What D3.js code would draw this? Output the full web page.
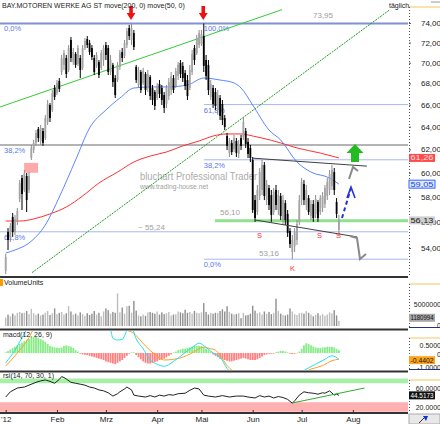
<!DOCTYPE html>
<html>
<head>
<meta charset="utf-8">
<script src="https://cdn.jsdelivr.net/npm/d3@7"></script>
<style>
body { margin: 0; background: #fff; }
svg { font-family: Arial, "Liberation Sans", sans-serif; }
</style>
</head>
<body>
<div id="chart-area"></div>
<script>
/*
*    BMW daily chart (Jan - Jul 2012)
*/

// ---- data ----
var months = ["'12", "Feb", "Mrz", "Apr", "Mai", "Jun", "Jul", "Aug"];
var monthStart = [0, 22, 43, 65, 84, 106, 127, 149];
var priceTicks = [54, 56, 58, 60, 62, 64, 66, 68, 70, 72, 74];

// [open, high, low, close]
var candles = [
    [52.29,53.55,52.06,53.32],[55.22,55.53,53.85,54.61],[54.76,55.92,54.46,55.69],[56.40,56.72,54.84,55.22],
    [55.22,56.56,54.99,56.24],[56.08,57.11,55.77,56.87],[57.83,59.39,57.59,59.14],[59.56,59.81,56.95,58.24],
    [58.57,60.23,58.40,59.89],[59.73,59.98,56.79,57.75],[58.57,60.06,58.32,59.73],[61.25,62.38,61.08,62.12],
    [61.94,62.82,61.68,62.56],[62.56,63.70,62.30,63.44],[63.79,63.97,62.65,62.99],[62.73,64.15,62.38,63.88],
    [63.61,63.88,62.30,62.56],[62.99,65.06,62.82,64.78],[64.42,66.44,64.15,66.06],[65.97,66.16,64.42,64.78],
    [65.51,67.37,65.33,67.09],[67.56,67.85,66.44,66.72],[67.09,68.32,66.90,68.04],[68.23,68.51,67.18,67.47],
    [69.09,70.76,68.80,70.46],[69.78,71.25,69.29,70.96],[70.46,70.76,68.51,68.90],[69.29,71.75,69.09,71.45],
    [72.26,72.56,70.06,70.46],[70.06,71.45,69.78,71.05],[70.86,71.05,69.49,69.78],[69.88,71.75,69.68,71.45],
    [70.46,70.76,68.51,69.29],[69.49,71.75,69.29,71.45],[71.45,72.46,71.25,72.16],[72.36,72.66,71.45,71.75],
    [71.95,72.26,70.76,71.05],[71.45,71.75,70.26,70.56],[70.46,70.76,68.80,69.09],[69.68,71.05,69.49,70.76],
    [70.06,70.26,68.51,68.80],[69.49,71.25,69.29,70.96],[70.26,71.75,69.68,71.45],[71.75,72.06,70.26,70.76],
    [71.45,71.75,68.80,69.09],[69.09,70.76,68.80,70.26],[69.78,69.98,67.66,68.13],[68.51,68.80,66.62,66.90],
    [68.32,70.06,68.13,69.78],[69.59,71.25,69.29,70.96],[71.05,71.45,70.06,70.46],[70.66,72.26,70.46,71.95],
    [71.75,73.48,71.45,73.17],[73.48,73.80,72.26,72.66],[72.26,73.95,71.75,73.48],[72.97,73.28,71.25,71.55],
    [69.59,69.78,68.04,68.32],[67.85,69.59,67.56,69.29],[69.09,69.29,67.09,67.37],[68.04,69.49,67.85,69.19],
    [68.90,69.09,66.90,67.37],[67.56,69.29,67.18,68.90],[68.61,68.80,66.44,66.81],[67.56,67.85,65.97,66.44],
    [67.18,67.37,65.51,65.88],[66.62,68.04,66.44,67.75],[67.94,68.32,66.62,67.00],[67.56,67.85,65.97,66.44],
    [66.90,67.18,65.24,65.70],[66.06,67.85,65.70,67.56],[66.81,68.51,66.44,68.13],[67.37,69.09,66.90,68.70],
    [68.51,68.80,67.09,67.37],[67.75,69.49,67.56,69.19],[68.70,70.06,68.32,69.78],[69.98,70.26,68.51,68.90],
    [69.68,70.06,68.13,68.51],[68.99,69.29,67.37,67.75],[68.32,68.80,66.44,66.81],[67.56,69.78,67.37,69.29],
    [69.09,71.25,68.80,70.86],[71.45,71.75,69.78,70.26],[70.96,72.77,70.76,72.46],[71.75,73.28,71.45,72.97],
    [71.85,73.28,71.65,72.87],[72.66,73.95,69.09,69.68],[70.26,70.76,68.32,68.70],[69.78,70.26,66.90,67.37],
    [66.72,68.32,66.44,67.94],[67.56,67.85,65.70,66.06],[67.18,67.56,65.51,65.88],[65.51,67.37,65.06,66.90],
    [66.62,66.90,64.60,64.97],[66.06,66.44,64.15,64.60],[64.78,65.06,63.70,63.97],[63.17,63.44,61.94,62.30],
    [61.68,62.99,61.34,62.73],[62.56,62.82,61.51,61.77],[62.03,63.26,61.77,62.99],[62.73,62.99,61.34,61.68],
    [61.60,62.82,61.25,62.47],[62.99,63.26,61.94,62.30],[63.08,64.87,62.82,64.42],[63.61,63.88,62.12,62.47],
    [62.65,62.99,61.25,61.60],[62.12,62.38,60.91,61.25],[61.08,61.34,56.72,56.95],[57.75,58.16,56.01,56.31],
    [56.79,58.98,56.56,58.57],[58.08,60.40,57.75,60.06],[58.57,61.08,58.16,60.66],[60.66,60.91,57.75,58.08],
    [57.75,59.39,57.35,59.06],[58.73,58.98,56.95,57.35],[58.16,58.57,56.01,56.56],[56.79,58.73,56.56,58.40],
    [58.57,58.98,56.95,57.35],[56.95,58.57,56.56,58.16],[58.08,58.32,56.16,56.48],[56.16,58.16,55.77,57.75],
    [57.51,57.75,55.77,56.16],[56.64,56.95,54.84,55.15],[55.30,55.53,54.00,54.30],[53.70,54.99,53.16,54.61],
    [54.15,55.53,53.70,55.22],[54.61,56.16,54.23,55.84],[56.00,58.16,55.77,57.75],[57.75,59.56,57.35,59.22],
    [59.06,59.39,57.35,57.75],[57.35,58.98,56.95,58.57],[57.91,58.16,56.56,56.79],[56.48,57.75,56.16,57.43],
    [57.43,57.75,56.01,56.31],[56.64,58.16,56.31,57.83],[57.59,57.75,56.01,56.31],[56.79,58.16,56.56,57.91],
    [57.11,58.40,56.79,58.08],[57.43,58.98,57.11,58.73],[58.08,59.56,57.75,59.22],[58.57,60.23,58.16,59.89],
    [58.90,60.66,58.57,60.23],[60.06,60.40,58.16,58.57],[57.59,57.91,56.31,56.64],[55.38,56.56,54.99,56.13]
];

// volume in millions of units
var volume = [
    1.9,2.6,2.2,2.8,2.4,3.0,3.2,2.9,3.0,3.4,2.7,3.9,2.9,2.5,2.8,2.4,2.6,3.0,3.4,2.5,
    2.9,4.0,2.7,3.0,3.2,2.6,2.9,4.5,3.3,2.6,2.8,2.4,3.1,2.7,2.3,2.9,2.5,2.8,3.4,2.6,
    3.0,2.2,3.3,4.0,3.6,2.8,3.2,3.0,7.4,3.1,4.2,2.8,4.5,4.6,3.0,5.7,3.5,2.4,2.2,2.6,
    2.3,3.1,3.2,3.0,2.8,3.3,2.6,3.1,2.7,2.9,3.2,2.4,2.6,2.7,3.3,3.1,2.9,3.7,3.0,3.2,
    2.8,3.4,3.0,2.9,3.1,5.2,3.2,2.6,3.0,2.8,3.0,3.0,3.4,3.8,3.3,4.5,3.2,2.8,2.6,2.7,
    2.9,1.8,3.0,2.4,2.5,2.8,4.6,3.5,2.9,3.1,2.6,3.3,2.8,3.2,2.7,3.0,6.2,3.4,2.8,2.5,
    2.4,2.6,4.0,3.3,2.7,2.5,2.9,3.0,2.8,3.4,3.0,2.6,2.2,2.5,2.9,2.4,2.7,2.3,2.6,3.1,
    2.9,3.6,2.4,1.180994
];

// moving averages read at points: [day index, price]
var ma200 = [[0,56.08],[6,56.08],[12,56.24],[19,56.64],[26,57.19],[33,58.08],[40,59.14],[48,60.06],
    [55,60.91],[62,61.42],[69,61.77],[76,62.30],[83,62.73],[89,63.17],[95,63.35],[101,63.35],
    [106,63.17],[110,62.99],[118,62.56],[125,62.12],[135,61.68],[143,61.26]];
var ma50 = [[0,53.62],[4,53.85],[10,54.38],[17,55.77],[23,57.99],[30,61.08],[36,63.88],[43,65.51],
    [49,66.62],[55,67.56],[62,67.66],[69,67.66],[78,67.85],[85,68.51],[92,68.32],[98,68.04],
    [101,67.56],[106,65.97],[113,63.70],[118,62.82],[125,60.91],[131,60.06],[139,59.56],[143,59.05]];

var macdHist = [
    0.05,0.15,0.25,0.35,0.45,0.55,0.65,0.75,0.85,0.95,1.0,1.1,1.15,1.15,1.1,1.0,0.9,0.8,0.65,0.5,
    0.45,0.4,0.38,0.35,0.4,0.5,0.55,0.5,0.45,0.35,0.2,0.1,-0.05,-0.1,-0.12,-0.15,-0.2,-0.25,-0.3,-0.35,
    -0.4,-0.45,-0.5,-0.6,-0.65,-0.7,-0.75,-0.8,-0.7,-0.6,-0.5,-0.35,-0.2,-0.05,0.05,0.05,-0.15,-0.3,-0.45,-0.6,
    -0.7,-0.75,-0.75,-0.7,-0.65,-0.6,-0.5,-0.45,-0.4,-0.3,-0.2,-0.1,0.05,0.1,0.2,0.25,0.3,0.3,0.35,0.4,
    0.45,0.5,0.5,0.5,0.5,0.4,0.3,0.2,0.1,-0.1,-0.2,-0.3,-0.4,-0.45,-0.5,-0.55,-0.6,-0.6,-0.55,-0.5,
    -0.45,-0.4,-0.35,-0.4,-0.45,-0.5,-0.5,-0.5,-0.45,-0.35,-0.25,-0.15,-0.1,-0.05,-0.05,-0.05,0.05,0.1,0.15,0.15,
    0.1,0.05,-0.05,-0.08,-0.05,-0.02,0.1,0.3,0.55,0.7,0.65,0.55,0.45,0.4,0.35,0.35,0.4,0.4,0.45,0.45,
    0.45,0.4,0.3,0.2
];
var macdLine = [[0,-0.7],[4,0.2],[8,1.4],[10,1.9],[14,2.4],[22,2.6],[32,2.3],[42,1.8],[45,1.6],[46,1.05],
    [48,0.93],[50,0.97],[52,1.6],[54,1.8],[56,1.0],[59,0.3],[62,-0.5],[65,-0.8],[68,-0.95],[72,-0.6],
    [76,-0.1],[80,0.4],[83,0.7],[86,0.4],[89,0.0],[92,-0.3],[95,-1.1],[100,-1.8],[110,-2.2],[120,-2.0],
    [126,-1.5],[129,-1.15],[133,-0.8],[137,-0.45],[140,-0.2],[143,-0.45]];
var signalLine = [[0,-0.93],[5,0.0],[10,1.1],[12,1.7],[20,2.3],[40,2.0],[50,1.7],[55,1.4],[57,1.05],
    [60,0.5],[64,-0.1],[68,-0.5],[72,-0.45],[75,-0.35],[80,0.0],[85,0.42],[88,0.3],[90,0.2],[92,-0.15],
    [95,-0.9],[100,-1.5],[115,-2.0],[125,-1.6],[131,-1.15],[136,-0.9],[140,-0.55],[143,-0.44]];

var rsiLine = [[0,41],[2,52],[5,60],[8,62],[10,66],[13,72],[15,75],[17,77],[19,74],[21,70],[23,78],
    [24,84],[25,82],[26,79],[28,72],[30,70],[32,68],[34,66],[36,62],[38,60],[40,56],[42,54],[44,50],
    [46,43],[48,48],[49,52],[51,58],[52,62],[54,56],[55,45],[57,43],[60,41],[62,44],[64,41],[66,45],
    [68,43],[70,46],[72,45],[74,48],[77,49],[79,55],[81,60],[83,58],[85,45],[87,43],[90,41],[93,44],
    [96,41],[99,43],[102,43],[104,41],[107,39],[109,44],[111,41],[113,43],[115,39],[117,42],[119,40],
    [121,36],[123,28],[124,33],[126,45],[128,52],[130,50],[132,49],[134,47],[136,50],[137,49],[139,54],
    [141,45],[142,47],[143,44.5]];

// Fibonacci levels
var fibLeftLabels = ["0,0%", "38,2%", "61,8%"];
var fibLeftPrices = [73.95, 62.38, 55.24];
var fibRightLabels = ["100,0%", "61,8%", "38,2%", "0,0%"];
var fibRightPrices = [73.95, 66.01, 61.10, 53.16];
var fibRightStart = 85;

// drawn analysis lines: [[index, price], [index, price]]
var greenChannel = [[-2.4, 65.79], [118.6, 75.4]];
var greenTrend = [[11.3, 52.17], [164.9, 75.4]];
var resistance = [[106, 61.24], [155, 60.56]];
var support = [[107, 56.16], [150.8, 54.84]];
var supportLevel = 56.10;
var topMarks = [54, 85];
var gapBox = [7.9, 13.9, 60.0, 60.83];

var lastVals = { ma200: "61,26", ma50: "59,05", close: "56,13", vol: "1180994", macd: "-0.4402", rsi: "44.5173" };

// ---- layout ----
var width = 440, height = 424, plotRight = 408;

var svg = d3.select("#chart-area").append("svg")
    .attr("width", width)
    .attr("height", height);

var x = d3.scaleLinear().domain([0, 149]).range([5.7, 352.9]);
var y = d3.scaleLog().domain([54, 74]).range([248, 23]);
var yVol = d3.scaleLinear().domain([0, 5]).range([326, 304]);
var yMacd = d3.scaleLinear().domain([-1, 0.5]).range([367, 346]);
var yRsi = d3.scaleLinear().domain([20, 60]).range([407, 388]);

var defs = svg.append("defs");
function clip(id, y0, h) {
    defs.append("clipPath").attr("id", id).append("rect")
        .attr("x", 0).attr("y", y0).attr("width", plotRight).attr("height", h);
}
clip("cMain", 0, 276);
clip("cVol", 278, 50);
clip("cMacd", 331, 39);
clip("cRsi", 373, 39);

var g = svg.append("g").attr("clip-path", "url(#cMain)");

// watermark
g.append("text").attr("x", 140).attr("y", 180)
    .attr("font-size", "11px").attr("fill", "#acacac")
    .attr("textLength", 117).attr("lengthAdjust", "spacingAndGlyphs")
    .text("bluchart Professional Trader");
g.append("text").attr("x", 140).attr("y", 189)
    .attr("font-size", "7px").attr("fill", "#a0a0a0")
    .attr("textLength", 68).attr("lengthAdjust", "spacingAndGlyphs")
    .text("www.trading-house.net");

// fib lines
var fibLeftStyle = [["#8090d8", 2], ["#b4b4b4", 2], ["#a8b8f0", 1]];
fibLeftPrices.forEach(function(p, k) {
    g.append("line").attr("x1", 0).attr("x2", plotRight)
        .attr("y1", y(p)).attr("y2", y(p))
        .attr("stroke", fibLeftStyle[k][0]).attr("stroke-width", fibLeftStyle[k][1]);
    g.append("text").attr("x", 4).attr("y", y(p) + 8)
        .attr("font-size", "7.5px").attr("fill", "#5a78f0").text(fibLeftLabels[k]);
});
fibRightPrices.forEach(function(p, k) {
    if (k > 0) {
        g.append("line").attr("x1", x(fibRightStart)).attr("x2", plotRight)
            .attr("y1", y(p)).attr("y2", y(p))
            .attr("stroke", "#a8b8f0").attr("stroke-width", 1);
    }
    g.append("text").attr("x", x(fibRightStart)).attr("y", y(p) + 8)
        .attr("font-size", "7.5px").attr("fill", "#5a78f0").text(fibRightLabels[k]);
});

// level texts
g.append("text").attr("x", 313).attr("y", y(73.95) - 5).attr("font-size", "8px").attr("fill", "#a0a0a0").text("73,95");
g.append("text").attr("x", 138).attr("y", y(55.24) - 2).attr("font-size", "8px").attr("fill", "#a0a0a0").text("~ 55,24");
g.append("text").attr("x", 220).attr("y", y(supportLevel) - 6).attr("font-size", "8px").attr("fill", "#a0a0a0").text("56,10");
g.append("text").attr("x", 259).attr("y", y(53.16) - 3).attr("font-size", "8px").attr("fill", "#a0a0a0").text("53,16");

// support level (green band)
g.append("line").attr("x1", 215).attr("x2", plotRight)
    .attr("y1", y(supportLevel)).attr("y2", y(supportLevel))
    .attr("stroke", "#8fe08f").attr("stroke-width", 3);

// gap box
g.append("rect").attr("x", x(gapBox[0])).attr("width", x(gapBox[1]) - x(gapBox[0]))
    .attr("y", y(gapBox[3])).attr("height", y(gapBox[2]) - y(gapBox[3]))
    .attr("fill", "#ffaaaa");

function seg(pts, color, w, dash) {
    g.append("line")
        .attr("x1", x(pts[0][0])).attr("y1", y(pts[0][1]))
        .attr("x2", x(pts[1][0])).attr("y2", y(pts[1][1]))
        .attr("stroke", color).attr("stroke-width", w)
        .attr("stroke-dasharray", dash || null);
}
seg(greenChannel, "#33cc33", 1);
seg(greenTrend, "#1f9a1f", 1, "2,1");

// moving averages
var maLine = d3.line().x(d => x(d[0])).y(d => y(d[1])).curve(d3.curveMonotoneX);
g.append("path").attr("d", maLine(ma200)).attr("fill", "none").attr("stroke", "#ff3030").attr("stroke-width", 1);
g.append("path").attr("d", maLine(ma50)).attr("fill", "none").attr("stroke", "#5a88ff").attr("stroke-width", 1);

// candles
var up = d => d[3] >= d[0];
g.selectAll("line.wick").data(candles).enter().append("line")
    .attr("class", "wick")
    .attr("x1", (d, i) => x(i)).attr("x2", (d, i) => x(i))
    .attr("y1", d => y(d[1])).attr("y2", d => y(d[2]))
    .attr("stroke", d => up(d) ? "#8c8c8c" : "#000");
g.selectAll("rect.body").data(candles).enter().append("rect")
    .attr("class", "body")
    .attr("x", (d, i) => x(i) - 0.9).attr("width", 1.8)
    .attr("y", d => y(Math.max(d[0], d[3])))
    .attr("height", d => Math.max(1, y(Math.min(d[0], d[3])) - y(Math.max(d[0], d[3]))))
    .attr("fill", d => up(d) ? "#a4a4a4" : "#000");

// trend lines
seg(resistance, "#404040", 1);
seg(support, "#404040", 1);

// S / K marks
var marks = [["S", 257], ["S", 317], ["S", 336]];
marks.forEach(function(m) {
    g.append("text").attr("x", m[1]).attr("y", 238).attr("font-size", "7.5px").attr("fill", "#ff3030").text(m[0]);
});
g.append("text").attr("x", 290).attr("y", 271).attr("font-size", "7.5px").attr("fill", "#ff3030").text("K");

// red arrows at the two tops
topMarks.forEach(function(i) {
    var cx = x(i) - 0.5;
    g.append("path")
        .attr("d", "M" + (cx - 1.8) + ",6 h3.6 v7 h2.6 l-4.4,7 l-4.4,-7 h2.6 z")
        .attr("fill", "#ee1111");
});

// projections
g.append("path").attr("d", "M349,179 L353,167 L358,171").attr("fill", "none").attr("stroke", "#8a8a8a").attr("stroke-width", 2);
g.append("path").attr("d", "M350,236 L357,238 L360,259 L366,254").attr("fill", "none").attr("stroke", "#8a8a8a").attr("stroke-width", 2);
g.append("line").attr("x1", 342).attr("y1", 218).attr("x2", 351).attr("y2", 188)
    .attr("stroke", "#2233dd").attr("stroke-width", 2).attr("stroke-dasharray", "4,3");
g.append("path").attr("d", "M347,198 L351,187 L355,198").attr("fill", "none").attr("stroke", "#2233dd").attr("stroke-width", 1.6);
g.append("path").attr("d", "M351,162 v-9 h-4.5 l8.5,-9 l8.5,9 h-4.5 v9 z").attr("fill", "#22bb22");

// title
svg.append("text").attr("x", 2).attr("y", 8).attr("font-size", "7px").attr("fill", "#222")
    .text("BAY.MOTOREN WERKE AG ST move(200, 0) move(50, 0)");
svg.append("text").attr("x", 389).attr("y", 8).attr("font-size", "7px").attr("fill", "#222").text("täglich");
svg.append("line").attr("x1", 431).attr("x2", 440).attr("y1", 2).attr("y2", 2).attr("stroke", "#999");

// ---- volume panel ----
var gv = svg.append("g").attr("clip-path", "url(#cVol)");
gv.selectAll("rect").data(volume).enter().append("rect")
    .attr("x", (d, i) => x(i) - 0.7).attr("width", 1.4)
    .attr("y", d => yVol(d)).attr("height", d => yVol(0) - yVol(d))
    .attr("fill", (d, i) => up(candles[i]) ? "#bdbdbd" : "#8f8f8f");
svg.append("rect").attr("x", 0).attr("y", 279).attr("width", 3).attr("height", 7).attr("fill", "#ff9900");
svg.append("text").attr("x", 4).attr("y", 285).attr("font-size", "7px").attr("fill", "#222").text("VolumeUnits");

// ---- macd panel ----
var gm = svg.append("g").attr("clip-path", "url(#cMacd)");
gm.selectAll("rect").data(macdHist).enter().append("rect")
    .attr("x", (d, i) => x(i) - 0.9).attr("width", 1.8)
    .attr("y", d => d >= 0 ? yMacd(d) : yMacd(0))
    .attr("height", d => Math.abs(yMacd(d) - yMacd(0)))
    .attr("fill", d => d >= 0 ? "#86ec86" : "#ff8080");
var mLine = d3.line().x(d => x(d[0])).y(d => yMacd(d[1])).curve(d3.curveMonotoneX);
gm.append("path").attr("d", mLine(signalLine)).attr("fill", "none").attr("stroke", "#ffa020").attr("stroke-width", 1);
gm.append("path").attr("d", mLine(macdLine)).attr("fill", "none").attr("stroke", "#22e0f0").attr("stroke-width", 1);
svg.append("text").attr("x", 3).attr("y", 337).attr("font-size", "7px").attr("fill", "#222").text("macd(12, 26, 9)");

// ---- rsi panel ----
var gr = svg.append("g").attr("clip-path", "url(#cRsi)");
gr.append("rect").attr("x", 0).attr("width", plotRight).attr("y", yRsi(80)).attr("height", yRsi(70) - yRsi(80)).attr("fill", "#a8f0a8");
gr.append("rect").attr("x", 0).attr("width", plotRight).attr("y", yRsi(30)).attr("height", yRsi(10) - yRsi(30)).attr("fill", "#ffb0b0");
var rLine = d3.line().x(d => x(d[0])).y(d => yRsi(d[1]));
gr.append("path").attr("d", rLine(rsiLine)).attr("fill", "none").attr("stroke", "#222").attr("stroke-width", 1);
gr.append("line").attr("x1", x(123)).attr("y1", yRsi(28.4)).attr("x2", x(154)).attr("y2", yRsi(60))
    .attr("stroke", "#33aa33").attr("stroke-width", 1);
svg.append("text").attr("x", 3).attr("y", 378).attr("font-size", "7px").attr("fill", "#222").text("rsi(14, 70, 30, 1)");

// ---- separators ----
[277, 329.5, 371.5, 413].forEach(function(yy) {
    svg.append("line").attr("x1", 0).attr("x2", plotRight).attr("y1", yy).attr("y2", yy)
        .attr("stroke", "#333").attr("stroke-width", 2);
});

// ---- right axes ----
function axisBox(top, bottom) {
    svg.append("line").attr("x1", 409).attr("x2", 440).attr("y1", top).attr("y2", top).attr("stroke", "#f2c65c");
    svg.append("line").attr("x1", 409.5).attr("x2", 409.5).attr("y1", top).attr("y2", bottom)
        .attr("stroke", "#555").attr("stroke-dasharray", "1,2");
}
axisBox(7, 276);
axisBox(284, 328);
axisBox(338, 370);
axisBox(380, 412);

var yAxisCall = d3.axisRight(y).tickValues(priceTicks).tickSize(2)
    .tickFormat(d => d3.format(".2f")(d).replace(".", ","));
var yAxisGroup = svg.append("g").attr("transform", "translate(409,0)").call(yAxisCall);
yAxisGroup.select(".domain").remove();
yAxisGroup.attr("font-size", 8).attr("font-family", null);
yAxisGroup.selectAll("text").attr("x", 32).attr("text-anchor", "end").attr("fill", "#222");
yAxisGroup.selectAll("line").attr("stroke", "#555");

function sideLabel(txt, yy) {
    svg.append("text").attr("x", 441).attr("y", yy).attr("text-anchor", "end")
        .attr("font-size", "7px").attr("fill", "#222").text(txt);
}
sideLabel("5000000", yVol(5) + 2.5);
sideLabel("0", yVol(0) + 2);
sideLabel("0.5000", yMacd(0.5) + 1.5);
sideLabel("0", yMacd(0) + 3.5);
sideLabel("-1.0000", yMacd(-1) + 3);
sideLabel("60.0000", yRsi(60) + 2.5);
sideLabel("20.0000", yRsi(20) + 2.5);
svg.append("line").attr("x1", 409).attr("x2", 440).attr("y1", 327.5).attr("y2", 327.5).attr("stroke", "#223388");
svg.append("line").attr("x1", 409).attr("x2", 440).attr("y1", 369.5).attr("y2", 369.5).attr("stroke", "#223388");

function valueBox(txt, yy, fill, stroke, color) {
    svg.append("rect").attr("x", 409).attr("y", yy - 4).attr("width", 26).attr("height", 8)
        .attr("fill", fill).attr("stroke", stroke);
    svg.append("text").attr("x", 410.5).attr("y", yy + 2.5).attr("font-size", "7px").attr("fill", color)
        .attr("textLength", 23).attr("lengthAdjust", "spacingAndGlyphs").text(txt);
}
valueBox(lastVals.ma200, y(61.26), "#ff4a4a", "none", "#ffe0e0");
valueBox(lastVals.ma50, y(59.05), "#dde8ff", "#3366ff", "#2244dd");
valueBox(lastVals.close, y(56.13), "#cfcfcf", "none", "#222");
valueBox(lastVals.vol, yVol(1.180994) - 3, "#a8a8a8", "none", "#111");
valueBox(lastVals.macd, yMacd(-0.4402) + 1, "#ffa51a", "none", "#111");
valueBox(lastVals.rsi, yRsi(44.5173), "#111", "none", "#fff");

// ---- x axis ----
var xAxisCall = d3.axisBottom(x).tickValues(monthStart)
    .tickFormat((d, i) => months[i]).tickSizeInner(-3).tickSizeOuter(0).tickPadding(3);
var xAxisGroup = svg.append("g").attr("transform", "translate(0,413)").call(xAxisCall);
xAxisGroup.select(".domain").remove();
xAxisGroup.attr("font-size", 8).attr("font-family", null);
xAxisGroup.selectAll("text").attr("fill", "#222");
xAxisGroup.selectAll("line").attr("stroke", "#333");

// corner button
svg.append("rect").attr("x", 409).attr("y", 414).attr("width", 31).attr("height", 10).attr("fill", "#e8e8e8").attr("stroke", "#aaa");
svg.append("path").attr("d", "M419,423 L425,417").attr("stroke", "#333").attr("stroke-width", 1);
svg.append("path").attr("d", "M423,416 L428,416 L426,421 z").attr("fill", "#1133cc");
</script>
</body>
</html>
